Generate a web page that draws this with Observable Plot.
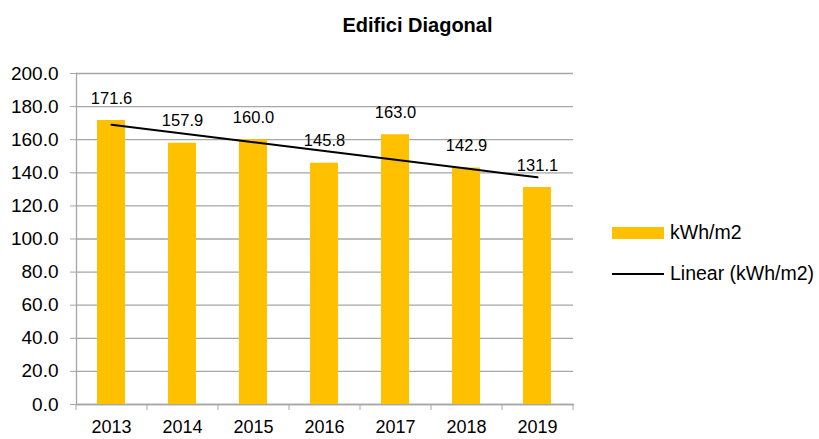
<!DOCTYPE html>
<html>
<head>
<meta charset="utf-8">
<script src="https://cdn.jsdelivr.net/npm/d3@7"></script>
<script src="https://cdn.jsdelivr.net/npm/@observablehq/plot@0.6"></script>
<style>
  html, body { margin: 0; padding: 0; background: #fff; }
  #wrap { position: relative; width: 819px; height: 439px; font-family: "Liberation Sans", Arial, sans-serif; }
  #title { position: absolute; left: 0; width: 835px; top: 14px; text-align: center; font-weight: bold; font-size: 20px; color: #000; }
  .leg { position: absolute; left: 612px; display: flex; align-items: center; font-size: 19.5px; color: #000; white-space: nowrap; }
  .sw { width: 52px; height: 12px; background: #FFC000; margin-right: 6px; }
  .ln { width: 52px; height: 2px; background: #000; margin-right: 6px; }
</style>
</head>
<body>
<div id="wrap">
  <div id="title">Edifici Diagonal</div>
  <div id="chart"></div>
  <div class="leg" style="top:221px"><div class="sw"></div><span id="l1"></span></div>
  <div class="leg" style="top:262px"><div class="ln"></div><span id="l2"></span></div>
</div>
<script>
const years = ["2013", "2014", "2015", "2016", "2017", "2018", "2019"];
const values = [171.6, 157.9, 160.0, 145.8, 163.0, 142.9, 131.1];
const yTicks = [0, 20, 40, 60, 80, 100, 120, 140, 160, 180, 200];
const seriesName = "kWh/m2";
const trendName = "Linear (kWh/m2)";

document.getElementById("l1").textContent = seriesName;
document.getElementById("l2").textContent = trendName;

const data = years.map((y, i) => ({year: y, value: values[i]}));

// least-squares linear trend over the category index
const n = values.length;
const mx = (n - 1) / 2;
const my = d3.mean(values);
let sxy = 0, sxx = 0;
values.forEach((v, i) => { sxy += (i - mx) * (v - my); sxx += (i - mx) ** 2; });
const slope = sxy / sxx;
const trend = years.map((y, i) => ({year: y, value: my + slope * (i - mx)}));

const gray = "#a6a6a6";

const chart = Plot.plot({
  width: 819,
  height: 439,
  marginLeft: 76,
  marginRight: 246,
  marginTop: 73,
  marginBottom: 35,
  style: {fontFamily: "Liberation Sans, Arial, sans-serif", background: "transparent", color: "#000"},
  x: {domain: years, paddingInner: 0.6, paddingOuter: 0.3},
  y: {domain: [0, 200]},
  marks: [
    Plot.gridY(yTicks, {stroke: gray, strokeOpacity: 1, strokeWidth: 1.3}),
    Plot.axisY(yTicks, {tickFormat: d3.format(".1f"), tickSize: 6, tickPadding: 12, stroke: gray, fontSize: 19, fill: "#000", label: null}),
    Plot.frame({anchor: "left", stroke: gray, strokeWidth: 1.3}),
    Plot.frame({anchor: "bottom", stroke: gray, strokeWidth: 1.3}),
    Plot.axisX(years, {tickSize: 6, dx: -35.5, tickFormat: () => "", stroke: gray, label: null}),
    Plot.axisX([years[years.length - 1]], {tickSize: 6, dx: 35.5, tickFormat: () => "", stroke: gray, label: null}),
    Plot.axisX(years, {tickSize: 0, tickPadding: 16, fontSize: 18, fill: "#000", label: null}),
    Plot.barY(data, {x: "year", y: "value", fill: "#FFC000"}),
    Plot.line(trend, {x: "year", y: "value", stroke: "#000", strokeWidth: 2}),
    Plot.text(data, {x: "year", y: "value", text: d => d.value.toFixed(1), dy: -22, fontSize: 16.5, fill: "#000"})
  ]
});
document.getElementById("chart").appendChild(chart);
</script>
</body>
</html>
